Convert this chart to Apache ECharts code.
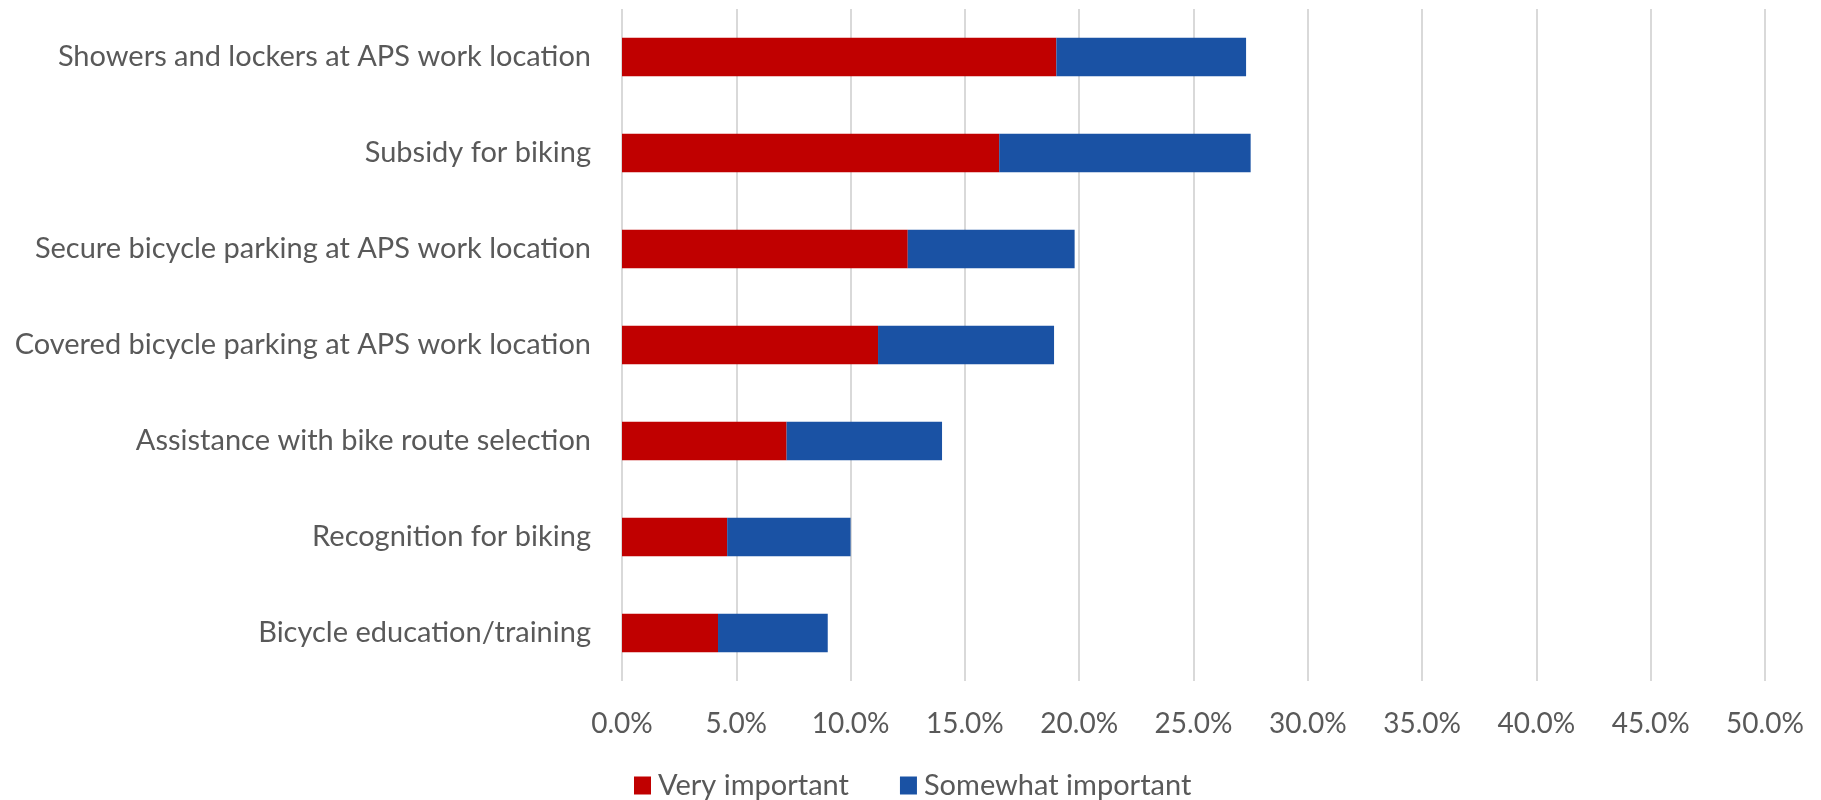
<!DOCTYPE html>
<html>
<head>
<meta charset="utf-8">
<script src="https://cdn.jsdelivr.net/npm/echarts@6/dist/echarts.min.js"></script>
<style>
html,body{margin:0;padding:0;background:#fff;}
#c{width:1821px;height:800px;}
</style>
</head>
<body>
<div id="c"></div>
<script>
const categories = [
  "Showers and lockers at APS work location",
  "Subsidy for biking",
  "Secure bicycle parking at APS work location",
  "Covered bicycle parking at APS work location",
  "Assistance with bike route selection",
  "Recognition for biking",
  "Bicycle education/training"
];
const veryImportant = [19.0, 16.5, 12.5, 11.2, 7.2, 4.6, 4.2];
const somewhatImportant = [8.3, 11.0, 7.3, 7.7, 6.8, 5.4, 4.8];
const seriesNames = ["Very important", "Somewhat important"];

const FONT = 'Lato';
const chart = echarts.init(document.getElementById('c'));
chart.setOption({
  animation: false,
  backgroundColor: '#fff',
  textStyle: {fontFamily: FONT},
  grid: {left: 622, right: 56, top: 9, bottom: 119, containLabel: false},
  legend: {
    data: seriesNames,
    left: 634, top: 771, padding: 0,
    itemWidth: 17, itemHeight: 18, itemGap: 51,
    icon: 'rect',
    textStyle: {fontFamily: FONT, fontSize: 29, color: '#595959', padding: [0,0,0,2]}
  },
  xAxis: {
    type: 'value', min: 0, max: 50, interval: 5,
    axisLine: {show: false}, axisTick: {show: false},
    splitLine: {lineStyle: {color: '#D9D9D9', width: 2}},
    axisLabel: {formatter: v => v.toFixed(1) + '%', fontFamily: FONT, fontSize: 28, color: '#595959', margin: 29}
  },
  yAxis: {
    type: 'category', data: categories, inverse: true,
    axisLine: {show: false}, axisTick: {show: false},
    axisLabel: {fontFamily: FONT, fontSize: 29, color: '#595959', margin: 31}
  },
  series: [
    {name: seriesNames[0], type: 'bar', stack: 's', data: veryImportant, barWidth: '40%',
     itemStyle: {color: '#C00000'}},
    {name: seriesNames[1], type: 'bar', stack: 's', data: somewhatImportant, barWidth: '40%',
     itemStyle: {color: '#1A52A4'}}
  ]
});
</script>
</body>
</html>
